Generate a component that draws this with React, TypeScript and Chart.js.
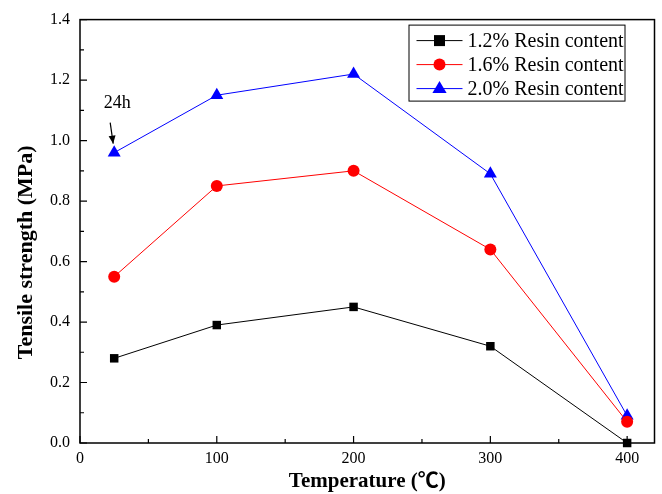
import React, { useEffect, useRef } from 'react';
import { Chart, registerables } from 'chart.js';

Chart.register(...registerables);

// ---- data ----
const temperatures = [25, 100, 200, 300, 400];
const resin12 = [0.28, 0.39, 0.45, 0.32, 0.0];
const resin16 = [0.55, 0.85, 0.9, 0.64, 0.07];
const resin20 = [0.96, 1.15, 1.22, 0.89, 0.09];
const seriesLabels = ['1.2% Resin content', '1.6% Resin content', '2.0% Resin content'];
const seriesColors = ['#000000', '#ff0000', '#0000ff'];
const seriesMarkers = ['rect', 'circle', 'triangle'];
const xTickValues = [0, 100, 200, 300, 400];
const xMinorTickValues = [50, 150, 250, 350];
const yTickValues = [0, 0.2, 0.4, 0.6, 0.8, 1.0, 1.2, 1.4];
const yMinorTickValues = [0.1, 0.3, 0.5, 0.7, 0.9, 1.1, 1.3];
const xTitle = 'Temperature (℃)';
const yTitle = 'Tensile strength (MPa)';
const annotationText = '24h';

const SERIF = '"Liberation Serif", "Times New Roman", "Noto Sans CJK SC", serif';

function drawMarker(ctx: CanvasRenderingContext2D, style: string, x: number, y: number, color: string) {
  ctx.save();
  ctx.fillStyle = color;
  ctx.beginPath();
  if (style === 'rect') {
    ctx.rect(x - 5.5, y - 5.5, 11, 11);
  } else if (style === 'circle') {
    ctx.arc(x, y, 6, 0, Math.PI * 2);
  } else {
    const r = 7.5;
    ctx.moveTo(x, y - r);
    ctx.lineTo(x + r * 0.95, y + r * 0.6);
    ctx.lineTo(x - r * 0.95, y + r * 0.6);
    ctx.closePath();
  }
  ctx.fill();
  ctx.restore();
}

const framePlugin = {
  id: 'framePlugin',
  beforeDatasetsDraw(chart: any) {
    const { ctx, chartArea } = chart;
    const { left, right, top, bottom } = chartArea;
    const xs = chart.scales.x;
    const ys = chart.scales.y;
    ctx.save();
    ctx.strokeStyle = '#000';
    ctx.lineWidth = 1.5;
    ctx.strokeRect(left, top, right - left, bottom - top);
    ctx.lineWidth = 1.2;
    ctx.beginPath();
    xTickValues.forEach((v) => {
      const px = xs.getPixelForValue(v);
      ctx.moveTo(px, bottom);
      ctx.lineTo(px, bottom - 7);
    });
    xMinorTickValues.forEach((v) => {
      const px = xs.getPixelForValue(v);
      ctx.moveTo(px, bottom);
      ctx.lineTo(px, bottom - 4);
    });
    yTickValues.forEach((v) => {
      const py = ys.getPixelForValue(v);
      ctx.moveTo(left, py);
      ctx.lineTo(left + 7, py);
    });
    yMinorTickValues.forEach((v) => {
      const py = ys.getPixelForValue(v);
      ctx.moveTo(left, py);
      ctx.lineTo(left + 4, py);
    });
    ctx.stroke();
    ctx.restore();
  },
};

const yTitlePlugin = {
  id: 'yTitle',
  afterDraw(chart: any) {
    const { ctx, chartArea } = chart;
    ctx.save();
    ctx.translate(26, (chartArea.top + chartArea.bottom) / 2 + 21);
    ctx.rotate(-Math.PI / 2);
    ctx.font = `bold 22px ${SERIF}`;
    ctx.fillStyle = '#000';
    ctx.textAlign = 'center';
    ctx.textBaseline = 'middle';
    ctx.fillText(yTitle, 0, 0);
    ctx.restore();
  },
};

const legendPlugin = {
  id: 'boxLegend',
  afterDraw(chart: any) {
    const { ctx, chartArea } = chart;
    const boxRight = chartArea.right - 30;
    const boxLeft = boxRight - 216;
    const boxTop = chartArea.top + 5;
    const rowH = 24;
    const boxH = 76;
    ctx.save();
    ctx.fillStyle = '#fff';
    ctx.fillRect(boxLeft, boxTop, boxRight - boxLeft, boxH);
    ctx.strokeStyle = '#000';
    ctx.lineWidth = 1;
    ctx.strokeRect(boxLeft + 0.5, boxTop + 0.5, boxRight - boxLeft, boxH);
    ctx.font = `20px ${SERIF}`;
    ctx.textBaseline = 'middle';
    ctx.textAlign = 'left';
    seriesLabels.forEach((label, i) => {
      const y = boxTop + 16 + i * rowH;
      ctx.strokeStyle = seriesColors[i];
      ctx.lineWidth = 1;
      ctx.beginPath();
      ctx.moveTo(boxLeft + 8, y);
      ctx.lineTo(boxLeft + 54, y);
      ctx.stroke();
      drawMarker(ctx, seriesMarkers[i], boxLeft + 31, y, seriesColors[i]);
      ctx.fillStyle = '#000';
      ctx.fillText(label, boxLeft + 59, y + 1);
    });
    ctx.restore();
  },
};

const annotationPlugin = {
  id: 'annot24h',
  afterDraw(chart: any) {
    const { ctx } = chart;
    const px = chart.scales.x.getPixelForValue(temperatures[0]);
    const py = chart.scales.y.getPixelForValue(resin20[0]);
    ctx.save();
    ctx.fillStyle = '#000';
    ctx.font = `18px ${SERIF}`;
    ctx.textAlign = 'center';
    ctx.textBaseline = 'middle';
    ctx.fillText(annotationText, px + 3, py - 49);
    // arrow
    const x1 = px - 4, y1 = py - 30, x2 = px - 1, y2 = py - 9;
    ctx.strokeStyle = '#000';
    ctx.lineWidth = 1.2;
    ctx.beginPath();
    ctx.moveTo(x1, y1);
    ctx.lineTo(x2, y2);
    ctx.stroke();
    const ang = Math.atan2(y2 - y1, x2 - x1);
    const hl = 8, hw = 3.5;
    ctx.beginPath();
    ctx.moveTo(x2, y2);
    ctx.lineTo(x2 - hl * Math.cos(ang) + hw * Math.sin(ang), y2 - hl * Math.sin(ang) - hw * Math.cos(ang));
    ctx.lineTo(x2 - hl * Math.cos(ang) - hw * Math.sin(ang), y2 - hl * Math.sin(ang) + hw * Math.cos(ang));
    ctx.closePath();
    ctx.fill();
    ctx.restore();
  },
};

export default function App() {
  const canvasRef = useRef<HTMLCanvasElement | null>(null);

  useEffect(() => {
    const canvas = canvasRef.current;
    if (!canvas) return;
    const seriesValues = [resin12, resin16, resin20];
    const datasets = seriesValues.map((vals, i) => ({
      label: seriesLabels[i],
      data: temperatures.map((t, j) => ({ x: t, y: vals[j] })),
      borderColor: seriesColors[i],
      backgroundColor: seriesColors[i],
      borderWidth: 1,
      pointStyle: seriesMarkers[i] as any,
      pointRadius: seriesMarkers[i] === 'triangle' ? 7.5 : 6,
      pointBorderWidth: 0,
      pointBackgroundColor: seriesColors[i],
      pointBorderColor: seriesColors[i],
      tension: 0,
      clip: false as any,
    }));

    const tickFont = { family: SERIF, size: 16 };
    const titleFont = { family: SERIF, size: 21, weight: 'bold' as const };

    const chart = new Chart(canvas, {
      type: 'line',
      data: { datasets },
      options: {
        animation: false,
        responsive: false,
        devicePixelRatio: 1,
        layout: { padding: { top: 17, right: 7, left: 0, bottom: 0 } },
        plugins: {
          legend: { display: false },
          tooltip: { enabled: false },
        },
        scales: {
          x: {
            type: 'linear',
            min: 0,
            max: 420,
            grid: { display: false, drawTicks: false },
            border: { display: false },
            afterBuildTicks: (scale: any) => {
              scale.ticks = xTickValues.map((v) => ({ value: v }));
            },
            afterFit: (scale: any) => {
              scale.height = 51;
            },
            ticks: {
              font: tickFont,
              color: '#000',
              padding: 6,
              maxRotation: 0,
              callback: (v: any) => String(v),
            },
            title: {
              display: true,
              text: xTitle,
              font: titleFont,
              color: '#000',
              padding: { top: 2, bottom: 0 },
            },
          },
          y: {
            type: 'linear',
            min: 0,
            max: 1.4,
            grid: { display: false, drawTicks: false },
            border: { display: false },
            afterBuildTicks: (scale: any) => {
              scale.ticks = yTickValues.map((v) => ({ value: v }));
            },
            afterFit: (scale: any) => {
              scale.width = 80;
            },
            ticks: {
              font: tickFont,
              color: '#000',
              padding: 10,
              callback: (v: any) => Number(v).toFixed(1),
            },
            title: { display: false, text: yTitle },
          },
        },
      },
      plugins: [framePlugin, yTitlePlugin, legendPlugin, annotationPlugin],
    });
    return () => chart.destroy();
  }, []);

  return (
    <div style={{ position: 'fixed', left: 0, top: 0, width: 662, height: 494, background: '#fff' }}>
      <canvas ref={canvasRef} width={662} height={494} />
    </div>
  );
}
